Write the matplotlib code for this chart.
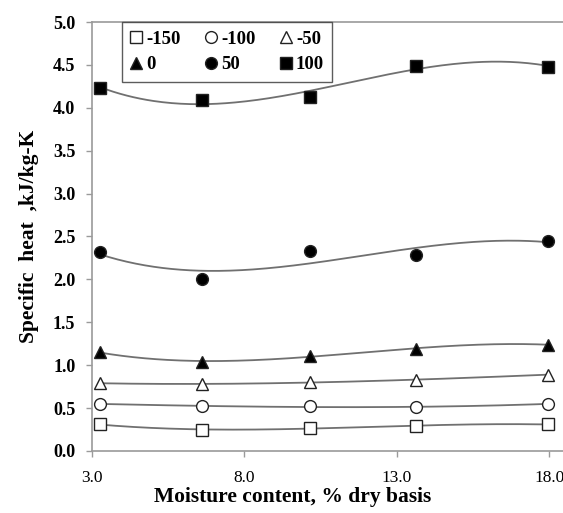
import numpy as np
import matplotlib.pyplot as plt
from matplotlib.ticker import MultipleLocator, FormatStrFormatter

# moisture content, % dry basis
moisture = [3.25, 6.62, 10.15, 13.62, 17.96]
xticks = [3.0, 8.0, 13.0, 18.0]

# specific heat, kJ/kg-K, per temperature
temps = ['-150', '-100', '-50', '0', '50', '100']
cp_m150 = [0.31, 0.245, 0.27, 0.29, 0.31]
cp_m100 = [0.55, 0.52, 0.52, 0.51, 0.55]
cp_m50 = [0.79, 0.78, 0.80, 0.83, 0.89]
cp_0 = [1.15, 1.04, 1.11, 1.19, 1.24]
cp_50 = [2.32, 2.00, 2.33, 2.28, 2.45]
cp_100 = [4.23, 4.09, 4.13, 4.49, 4.48]

series = [cp_m150, cp_m100, cp_m50, cp_0, cp_50, cp_100]
markers = ['s', 'o', '^', '^', 'o', 's']
faces = ['white', 'white', 'white', 'black', 'black', 'black']
sizes = [8.5, 8.5, 9, 9, 8.5, 8.5]

plt.rcParams['font.family'] = ['Liberation Serif', 'DejaVu Serif']

fig = plt.figure(figsize=(5.63, 5.13), dpi=100)
ax = fig.add_axes([0.1634, 0.1209, 0.8366, 0.8362])

x = np.array(moisture)
xs = np.linspace(x.min(), x.max(), 200)
handles = []
for y, m, fc, ms, lab in zip(series, markers, faces, sizes, temps):
    # 3rd order polynomial trendline
    coef = np.polyfit(x, y, 3)
    ax.plot(xs, np.polyval(coef, xs), color='#707070', lw=1.3, zorder=2)
    h, = ax.plot(x, y, linestyle='none', marker=m, markersize=ms,
                 markerfacecolor=fc, markeredgecolor='#222222',
                 markeredgewidth=1.0, label=lab, zorder=3)
    handles.append(h)

ax.set_xlim(3.0, 18.45)
ax.set_ylim(0.0, 5.0)
ax.set_xticks(xticks)
ax.yaxis.set_major_locator(MultipleLocator(0.5))
ax.xaxis.set_major_formatter(FormatStrFormatter('%.1f'))
ax.yaxis.set_major_formatter(FormatStrFormatter('%.1f'))

for s in ['left', 'bottom', 'top']:
    ax.spines[s].set_color('#9a9a9a')
    ax.spines[s].set_linewidth(1.2)
ax.spines['right'].set_visible(False)
ax.tick_params(axis='both', direction='out', length=4, width=1,
               color='#9a9a9a')
ax.tick_params(axis='x', pad=10, labelsize=12.5)
ax.tick_params(axis='y', pad=8, labelsize=13)
for t in ax.get_yticklabels():
    t.set_fontweight('bold')

ax.set_xlabel('Moisture content, % dry basis', fontsize=15.5,
              fontweight='bold')
ax.xaxis.set_label_coords(0.427, -0.085)
ax.set_ylabel('Specific  heat  ,kJ/kg-K', fontsize=15.5,
              fontweight='bold', labelpad=10)

order = [0, 3, 1, 4, 2, 5]
leg = ax.legend([handles[i] for i in order], [temps[i] for i in order],
                ncol=3, loc='upper left', bbox_to_anchor=(0.064, 1.0),
                borderaxespad=0, frameon=True, fancybox=False,
                edgecolor='#333333', handlelength=0.6, handletextpad=0.25,
                columnspacing=1.3, borderpad=0.45, labelspacing=0.45,
                prop={'size': 13.5, 'weight': 'bold'})
leg.get_frame().set_linewidth(1.0)

fig.savefig('out.png', dpi=100)
